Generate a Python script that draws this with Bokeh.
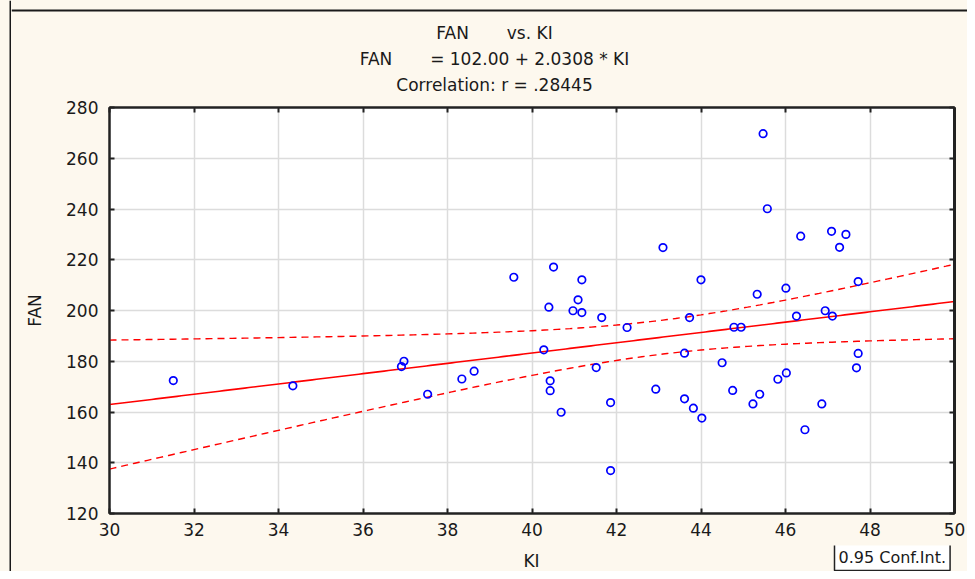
import numpy as np
from bokeh.plotting import figure
from bokeh.models import LinearAxis, Label, FixedTicker, Span, Range1d
from bokeh.layouts import column, row
from bokeh.embed import file_html
from bokeh.resources import INLINE

# ---- data ----
ki = [31.51, 34.34, 36.91, 36.97, 37.53, 38.34, 38.63, 39.57, 40.28, 40.40,
      40.51, 40.43, 40.43, 40.69, 41.09, 40.97, 41.18, 41.18, 41.52, 41.65,
      41.86, 41.86, 42.25, 42.93, 43.10, 43.61, 43.61, 43.73, 43.82, 44.02,
      44.00, 44.50, 44.75, 44.78, 44.95, 45.23, 45.33, 45.39, 45.47, 45.57,
      45.82, 46.02, 46.01, 46.26, 46.36, 46.46, 46.86, 46.94, 47.09, 47.11,
      47.28, 47.43, 47.68, 47.72, 47.72]
fan = [172.4, 170.3, 177.9, 180.0, 167.0, 173.0, 176.1, 213.1, 184.5, 201.3,
       217.1, 172.3, 168.4, 159.9, 204.2, 199.9, 212.1, 199.2, 177.5, 197.2,
       163.7, 136.9, 193.3, 169.0, 224.8, 183.2, 165.2, 197.2, 161.5, 157.6,
       212.1, 179.4, 168.5, 193.4, 193.4, 163.2, 206.4, 167.0, 269.7, 240.1,
       172.9, 175.4, 208.8, 197.8, 229.3, 153.0, 163.2, 199.9, 231.2, 197.8,
       224.9, 230.0, 177.4, 183.1, 211.4]
intercept = 102.00
slope = 2.0308
r_value = ".28445"
x_ticks = [30, 32, 34, 36, 38, 40, 42, 44, 46, 48, 50]
y_ticks = [120, 140, 160, 180, 200, 220, 240, 260, 280]
conf_level = "0.95"
x_name = "KI"
y_name = "FAN"

FONT = "DejaVu Sans"
BG = "#fdf8ee"
INK = "#1a1a1a"
FS = "17px"

W = 967
H = 571
LEFT_W = 11
TOP_H = 99
MAIN_H = 446
BOT_H = H - TOP_H - MAIN_H

x = np.array(ki)
y = np.array(fan)
n = len(x)

# regression line and 95% confidence band for the mean
xs = np.linspace(30, 50, 201)
ys = intercept + slope * xs
resid = y - (intercept + slope * x)
s = np.sqrt(np.sum(resid ** 2) / (n - 2))
xm = x.mean()
sxx = np.sum((x - xm) ** 2)
t = 2.0066
half = t * s * np.sqrt(1.0 / n + (xs - xm) ** 2 / sxx)


def strip(width, height, x0, y0):
    f = figure(width=width, height=height, output_backend="svg",
               toolbar_location=None, x_axis_type=None, y_axis_type=None,
               x_range=Range1d(x0, x0 + width), y_range=Range1d(y0 + height, y0),
               min_border=0, min_border_left=0, min_border_right=0,
               min_border_top=0, min_border_bottom=0, frame_align=False)
    f.background_fill_color = BG
    f.border_fill_color = BG
    f.outline_line_color = None
    return f


# ---- left strip with the outer frame line ----
left = strip(LEFT_W, H, 0, 0)
left.add_layout(Span(location=10, dimension="height", line_color=INK, line_width=2))

# ---- top strip: titles ----
top = strip(W - LEFT_W, TOP_H, LEFT_W, 0)
top.add_layout(Span(location=10, dimension="width", line_color=INK, line_width=2))
t1 = y_name + "\u00a0" * 7 + "vs. " + x_name
t2 = y_name + "\u00a0" * 7 + "= %.2f + %.4f * %s" % (intercept, slope, x_name)
t3 = "Correlation: r = " + r_value
for txt, py in ((t1, 32), (t2, 58), (t3, 84)):
    top.add_layout(Label(x=494, y=py, text=txt, text_align="center",
                         text_baseline="middle", text_font=FONT,
                         text_font_size=FS, text_color=INK))

# ---- main plot ----
p = figure(width=W - LEFT_W, height=MAIN_H, output_backend="svg",
           toolbar_location=None, x_range=(30, 50), y_range=(120, 280),
           min_border_left=98, min_border_right=13, min_border_top=8,
           min_border_bottom=32, frame_align=False)
p.background_fill_color = "white"
p.border_fill_color = BG
p.outline_line_color = "#222222"
p.outline_line_width = 2

p.xgrid.ticker = FixedTicker(ticks=x_ticks)
p.ygrid.ticker = FixedTicker(ticks=y_ticks)
for g in (p.xgrid, p.ygrid):
    g.grid_line_color = "#dcdcdc"
    g.grid_line_width = 1.5

p.xaxis.ticker = FixedTicker(ticks=x_ticks)
p.yaxis.ticker = FixedTicker(ticks=y_ticks)
for ax in (p.xaxis[0], p.yaxis[0]):
    ax.axis_line_color = "#222222"
    ax.axis_line_width = 2
    ax.major_tick_in = 5
    ax.major_tick_out = 0
    ax.minor_tick_line_color = None
    ax.major_tick_line_color = "#222222"
    ax.major_tick_line_width = 2
    ax.major_label_text_font = FONT
    ax.major_label_text_font_size = FS
    ax.major_label_text_color = INK
    ax.axis_label_text_font = FONT
    ax.axis_label_text_font_size = FS
    ax.axis_label_text_font_style = "normal"
    ax.axis_label_text_color = INK
p.yaxis.axis_label = y_name
p.xaxis.major_label_standoff = 9
p.yaxis.major_label_standoff = 11
p.yaxis.axis_label_standoff = 18

# inward ticks on top and right (labels not drawn)
for place, ticks, lw in (("above", x_ticks, 2), ("right", y_ticks, 3)):
    ax = LinearAxis(ticker=FixedTicker(ticks=ticks),
                    major_label_text_font_size="0px",
                    major_label_text_color=None,
                    major_tick_in=5, major_tick_out=0,
                    minor_tick_line_color=None,
                    axis_line_color="#222222", axis_line_width=lw,
                    major_tick_line_color="#222222", major_tick_line_width=2,
                    major_label_standoff=0)
    p.add_layout(ax, place)

p.line(xs, ys, line_color="red", line_width=1.6)
p.line(xs, ys + half, line_color="red", line_width=1.4, line_dash="7 5")
p.line(xs, ys - half, line_color="red", line_width=1.4, line_dash="7 5")

p.scatter(ki, fan, marker="circle", size=7.5, fill_color=None,
          line_color="#0000ff", line_width=1.7)

# ---- bottom strip: x label and confidence legend ----
bot = strip(W - LEFT_W, BOT_H, LEFT_W, TOP_H + MAIN_H)
bot.add_layout(Label(x=531, y=560, text=x_name, text_align="center",
                     text_baseline="middle", text_font=FONT,
                     text_font_size=FS, text_color=INK))
bot.add_layout(Label(x=834, y=570, text=conf_level + " Conf.Int.",
                     text_align="left", text_baseline="bottom", text_font=FONT,
                     text_font_size="16px", text_color=INK,
                     background_fill_color="white", border_line_color="#222222",
                     border_line_width=1.5, padding=4))

layout = row(left, column(top, p, bot, spacing=0), spacing=0)
layout.styles = {"background-color": BG}

open("out.html", "w").write(file_html(layout, INLINE))
